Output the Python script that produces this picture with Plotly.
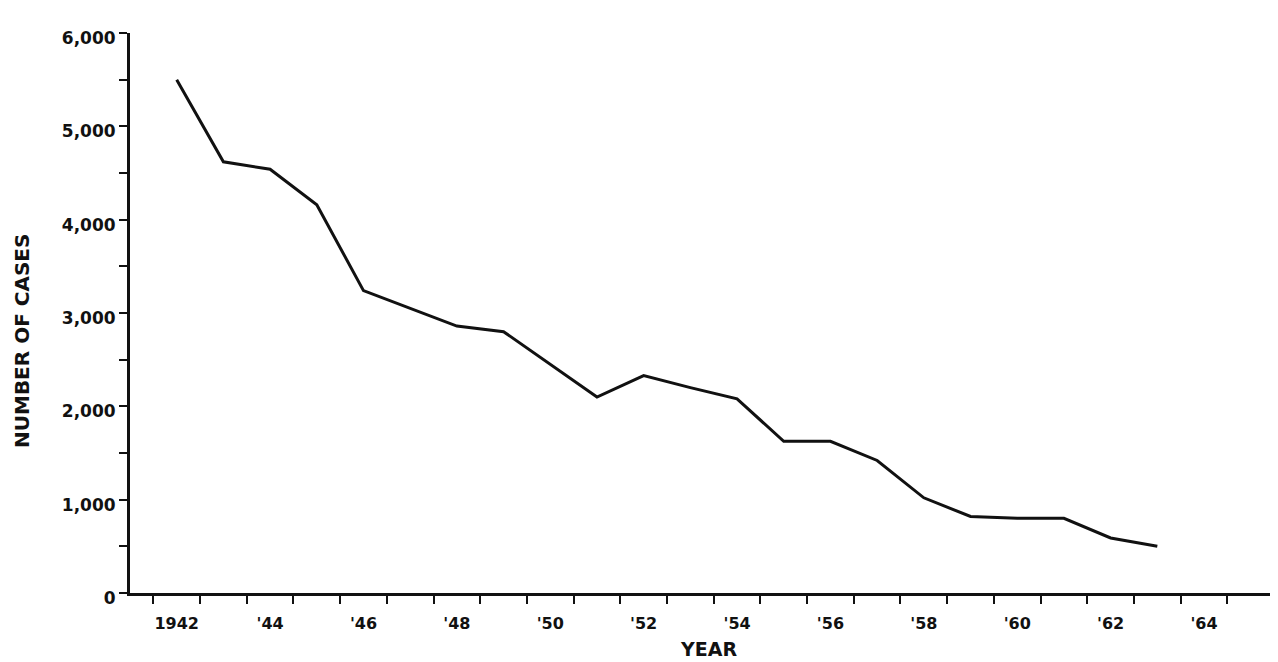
import plotly.graph_objects as go

years = list(range(1942, 1964))
cases = [5500, 4620, 4540, 4160, 3240, 3050, 2860, 2800, 2450, 2100, 2330,
         2200, 2080, 1625, 1625, 1420, 1020, 820, 800, 800, 590, 500]

x_label_years = list(range(1942, 1966, 2))
x_label_text = ["1942"] + ["'" + str(y)[2:] for y in x_label_years[1:]]

FONT = "DejaVu Sans"

fig = go.Figure()
fig.add_trace(go.Scatter(
    x=years, y=cases, mode="lines",
    line=dict(color="#111111", width=3),
    hoverinfo="skip", showlegend=False,
))

fig.update_layout(
    width=1278, height=662,
    margin=dict(l=122, r=11, t=25, b=77),
    paper_bgcolor="white", plot_bgcolor="white",
    font=dict(family=FONT, color="#111111"),
    xaxis=dict(
        range=[1941.0, 1965.52],
        showgrid=False, zeroline=False,
        showline=True, linecolor="#111111", linewidth=3,
        tickmode="array", tickvals=x_label_years, ticktext=x_label_text,
        ticks="", ticklabelstandoff=14,
        tickfont=dict(family=FONT, size=16, weight="bold", color="#111111"),
        minor=dict(tick0=1941.5, dtick=1, ticks="outside", ticklen=8,
                   tickwidth=2, tickcolor="#111111", showgrid=False),
    ),
    yaxis=dict(
        range=[0, 6000],
        showgrid=False, zeroline=False,
        showline=True, linecolor="#111111", linewidth=3,
        tickmode="linear", tick0=0, dtick=1000, tickformat=",",
        ticks="outside", ticklen=8, tickwidth=2, tickcolor="#111111",
        ticklabelshift=5,
        tickfont=dict(family=FONT, size=17, weight="bold", color="#111111"),
        minor=dict(dtick=500, ticks="outside", ticklen=8, tickwidth=2,
                   tickcolor="#111111", showgrid=False),
    ),
    annotations=[
        dict(text="NUMBER OF CASES", textangle=-90, xref="paper", yref="paper",
             x=(14 - 122) / 1145, y=(585 - 333) / 560, showarrow=False,
             xanchor="center", yanchor="middle",
             font=dict(family=FONT, size=20, weight="bold", color="#111111")),
        dict(text="YEAR", xref="paper", yref="paper",
             x=(700 - 122) / 1145, y=(585 - 641) / 560, showarrow=False,
             xanchor="center", yanchor="middle",
             font=dict(family=FONT, size=19, weight="bold", color="#111111")),
    ],
)

fig.write_html("out.html")
